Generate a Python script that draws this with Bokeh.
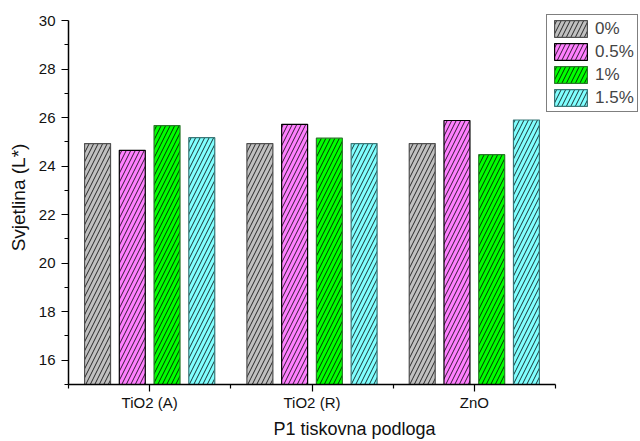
from bokeh.plotting import figure
from bokeh.models import ColumnDataSource, FixedTicker, Range1d, Legend, LegendItem
from bokeh.transform import dodge
from bokeh.embed import file_html
from bokeh.resources import INLINE

categories = ["TiO2 (A)", "TiO2 (R)", "ZnO"]
series_names = ["0%", "0.5%", "1%", "1.5%"]
v0 = [24.93, 24.93, 24.93]
v05 = [24.65, 25.72, 25.88]
v1 = [25.67, 25.15, 24.47]
v15 = [25.17, 24.93, 25.90]
y_ticks = [16, 18, 20, 22, 24, 26, 28, 30]
y_minor = [15, 17, 19, 21, 23, 25, 27, 29]

fills = ["#C0C0C0", "#FF80FF", "#00FF00", "#80FFFF"]
lines = ["#505050", "#000000", "#2a7a2a", "#3a7878"]
offsets = [-0.321, -0.107, 0.107, 0.321]
keys = ["v0", "v05", "v1", "v15"]

src = ColumnDataSource(data=dict(x=[1, 2, 3], v0=v0, v05=v05, v1=v1, v15=v15))

W, H = 640, 441
left, right_px, top_px, bottom_px = 68, 555, 20, 384   # axis extents in pixels
frame_top = 10
x0, x1 = 0.5, 3.5
y0, y1 = 15, 30
x_end = x0 + (W - left) * (x1 - x0) / (right_px - left)
y_end = y1 + (top_px - frame_top) * (y1 - y0) / (bottom_px - top_px)

p = figure(width=W, height=H, output_backend="svg", toolbar_location=None,
           x_range=Range1d(x0, x_end), y_range=Range1d(y0, y_end),
           min_border_left=left, min_border_right=0, min_border_top=frame_top,
           min_border_bottom=H - bottom_px)
p.outline_line_color = None
p.xgrid.visible = False
p.ygrid.visible = False

renderers = []
for k, off, fc, lc in zip(keys, offsets, fills, lines):
    r = p.vbar(x=dodge("x", off, range=p.x_range), top=k, bottom=y0, width=0.16, source=src,
               fill_color=fc, line_color=lc, line_width=1.2,
               hatch_pattern="/", hatch_color="black", hatch_scale=9, hatch_weight=0.8)
    renderers.append(r)

# axes
p.xaxis.ticker = FixedTicker(ticks=[1, 2, 3], minor_ticks=[0.5, 1.5, 2.5, 3.5])
p.xaxis.major_label_overrides = {1: categories[0], 2: categories[1], 3: categories[2]}
p.yaxis.ticker = FixedTicker(ticks=y_ticks, minor_ticks=y_minor)
p.xaxis.bounds = (x0, x1)
p.yaxis.bounds = (y0, y1)

for ax in (p.xaxis[0], p.yaxis[0]):
    ax.axis_line_width = 1.5
    ax.axis_line_color = "black"
    ax.major_tick_line_color = "black"
    ax.minor_tick_line_color = "black"
    ax.major_tick_line_width = 1.2
    ax.minor_tick_line_width = 1.2
    ax.major_tick_out = 7
    ax.major_tick_in = 0
    ax.minor_tick_out = 4
    ax.minor_tick_in = 0
    ax.major_label_text_font = "Liberation Sans"
    ax.major_label_text_font_size = "15px"
    ax.major_label_text_color = "#111111"
    ax.axis_label_text_font = "Liberation Sans"
    ax.axis_label_text_font_style = "normal"
    ax.axis_label_text_color = "#111111"

p.xaxis.axis_label = "P1 tiskovna podloga"
p.yaxis.axis_label = "Svjetlina (L*)"
p.xaxis.axis_label_text_font_size = "18px"
p.yaxis.axis_label_text_font_size = "19px"
p.xaxis.major_label_standoff = 2
p.xaxis.axis_label_standoff = 5
p.yaxis.major_label_standoff = 6
p.yaxis.axis_label_standoff = 7

legend = Legend(items=[LegendItem(label=n, renderers=[r]) for n, r in zip(series_names, renderers)],
                location=(478, 272), glyph_width=41, glyph_height=21, spacing=2,
                padding=3, margin=0, label_standoff=4,
                label_text_font="Liberation Sans", label_text_font_size="17px",
                border_line_color="black", border_line_width=1.2,
                background_fill_alpha=1.0)
p.add_layout(legend, "center")

open("out.html", "w").write(file_html(p, INLINE))
